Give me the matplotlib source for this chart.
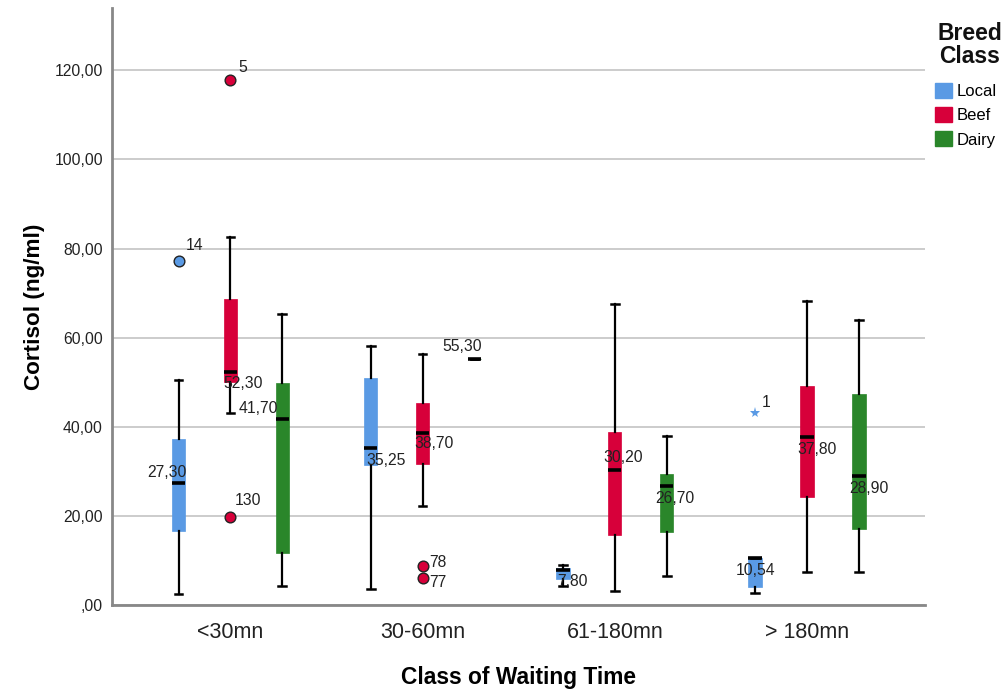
import matplotlib
matplotlib.use("Agg")
import matplotlib.pyplot as plt
from matplotlib.patches import Patch

plt.rcParams['font.family'] = ['Liberation Sans', 'DejaVu Sans']

groups = ['<30mn', '30-60mn', '61-180mn', '> 180mn']
breeds = ['Local', 'Beef', 'Dairy']

local_whislo = [2.4, 3.5, 4.2, 2.7]
local_q1 = [16.5, 31.4, 5.9, 4.0]
local_med = [27.30, 35.25, 7.80, 10.54]
local_q3 = [37.3, 51.0, 8.3, 10.54]
local_whishi = [50.4, 58.1, 8.9, 10.54]

beef_whislo = [43.0, 22.2, 3.1, 7.3]
beef_q1 = [50.0, 31.6, 15.6, 24.2]
beef_med = [52.30, 38.70, 30.20, 37.80]
beef_q3 = [68.7, 45.3, 38.9, 49.2]
beef_whishi = [82.5, 56.3, 67.5, 68.2]

dairy_whislo = [4.2, 55.3, 6.5, 7.3]
dairy_q1 = [11.6, 55.3, 16.3, 17.1]
dairy_med = [41.70, 55.30, 26.70, 28.90]
dairy_q3 = [49.8, 55.3, 29.3, 47.4]
dairy_whishi = [65.4, 55.3, 38.0, 64.0]

# outliers
out_breed = ['Local', 'Local', 'Beef', 'Beef', 'Beef', 'Beef']
out_group = [0, 3, 0, 0, 1, 1]
out_value = [77.2, 43.0, 117.9, 19.8, 8.8, 6.1]
out_label = ['14', '1', '5', '130', '78', '77']
out_kind = ['o', '*', 'o', 'o', 'o', 'o']

stats = {
    'Local': (local_whislo, local_q1, local_med, local_q3, local_whishi),
    'Beef': (beef_whislo, beef_q1, beef_med, beef_q3, beef_whishi),
    'Dairy': (dairy_whislo, dairy_q1, dairy_med, dairy_q3, dairy_whishi),
}
colors = {'Local': '#5A9AE4', 'Beef': '#D7003A', 'Dairy': '#2A862A'}
offsets = {'Local': -0.27, 'Beef': 0.0, 'Dairy': 0.27}

# median label placement (offsets in points) -- style only
med_lab_off = {
    ('Local', 0): (-8, 8), ('Beef', 0): (9, -8), ('Dairy', 0): (-17, 8),
    ('Local', 1): (11, -9), ('Beef', 1): (8, -8), ('Dairy', 1): (-9, 9),
    ('Local', 2): (7, -8), ('Beef', 2): (6, 9), ('Dairy', 2): (6, -9),
    ('Local', 3): (0, -9), ('Beef', 3): (7, -9), ('Dairy', 3): (7, -9),
}
# outlier label placement (offsets in points, left-aligned, centred vertically)
out_lab_off = {'14': (5, 11), '1': (5, 8), '5': (5.5, 8.6), '130': (3, 11.5),
               '78': (4.5, 2.7), '77': (4.5, -3.2)}

fig = plt.figure(figsize=(10.06, 6.91), dpi=100)
ax = fig.add_axes([112/1006, 1-605/691, (925-112)/1006, (605-8)/691])

def fmt(v):
    s = f"{v:.2f}".replace('.', ',')
    if s.startswith('0,'):
        s = s[1:]
    return s

box_w = 0.069
for b in breeds:
    lo, q1, med, q3, hi = stats[b]
    bstats = []
    pos = []
    for i in range(len(groups)):
        bstats.append(dict(whislo=lo[i], q1=q1[i], med=med[i], q3=q3[i],
                           whishi=hi[i], fliers=[]))
        pos.append(i + offsets[b])
    ax.bxp(bstats, positions=pos, widths=box_w, patch_artist=True,
           showfliers=False, capwidths=0.04,
           boxprops=dict(facecolor=colors[b], edgecolor=colors[b], linewidth=0.5),
           whiskerprops=dict(color='black', linewidth=1.6),
           capprops=dict(color='black', linewidth=1.8),
           medianprops=dict(color='black', linewidth=2.6),
           manage_ticks=False)
    for i in range(len(groups)):
        dx, dy = med_lab_off[(b, i)]
        ax.annotate(fmt(med[i]), (i + offsets[b], med[i]), xytext=(dx, dy),
                    textcoords='offset points', ha='center', va='center',
                    fontsize=11.3, color='#222222', zorder=5)

for b, g, v, lab, k in zip(out_breed, out_group, out_value, out_label, out_kind):
    x = g + offsets[b]
    if k == 'o':
        ax.plot(x, v, 'o', ms=7.7, mfc=colors[b], mec='#222222', mew=1.0, zorder=4)
    else:
        ax.plot(x, v, '*', ms=8, mfc=colors[b], mec=colors[b], mew=0, zorder=4)
    dx, dy = out_lab_off[lab]
    ax.annotate(lab, (x, v), xytext=(dx, dy), textcoords='offset points',
                ha='left', va='center', fontsize=11.3, color='#222222')

ax.set_xlim(-0.616, 3.614)
ax.set_ylim(0, 134)
ax.set_yticks([0, 20, 40, 60, 80, 100, 120])
ax.set_yticklabels([fmt(v) for v in [0, 20, 40, 60, 80, 100, 120]], fontsize=11.3)
ax.set_xticks(range(len(groups)))
ax.set_xticklabels(groups, fontsize=15.5)
ax.tick_params(axis='both', length=0, colors='#222222')
ax.tick_params(axis='x', pad=12)
ax.tick_params(axis='y', pad=6.5)
ax.yaxis.grid(True, color='#cccccc', linewidth=1.4)
ax.set_axisbelow(True)
for s in ['top', 'right']:
    ax.spines[s].set_visible(False)
for s in ['left', 'bottom']:
    ax.spines[s].set_color('#888888')
    ax.spines[s].set_linewidth(2)

ax.set_ylabel('Cortisol (ng/ml)', fontsize=16.2, fontweight='bold', labelpad=7)
ax.set_xlabel('Class of Waiting Time', fontsize=16.4, fontweight='bold', labelpad=17)

fig.text(970/1006, 1-45/691, 'Breed\nClass', ha='center', va='center',
         fontsize=16.5, fontweight='bold', linespacing=1.0, color='#111111')
handles = [Patch(facecolor=colors[b], edgecolor=colors[b]) for b in breeds]
leg = fig.legend(handles, breeds, loc='upper left',
                 bbox_to_anchor=(935/1006, 1-83/691), frameon=False,
                 handlelength=1.0, handleheight=1.0, handletextpad=0.3,
                 labelspacing=0.48, fontsize=12, borderaxespad=0, borderpad=0)

fig.savefig('out.png', dpi=100)
